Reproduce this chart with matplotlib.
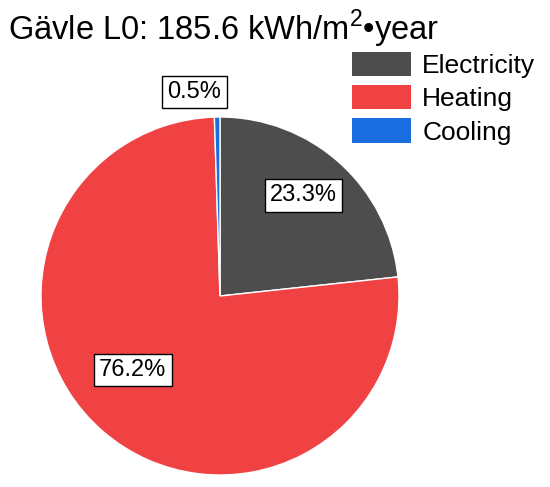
import numpy as np
import matplotlib.pyplot as plt
from matplotlib.patches import Patch

plt.rcParams['font.family'] = ['Liberation Sans', 'DejaVu Sans']
plt.rcParams['mathtext.fontset'] = 'custom'
plt.rcParams['mathtext.rm'] = 'Liberation Sans'

categories = ['Electricity', 'Heating', 'Cooling']
shares = [23.3, 76.2, 0.5]
colors = ['#4d4d4d', '#f04242', '#1a6ee0']
title = 'Gävle L0: 185.6 kWh/m$^{2}$•year'

# label placement (polar, in pie radii / degrees)
label_r = [0.73, 0.64, 1.15]
label_ang = [50.3, 220.4, 97.1]

fig = plt.figure(figsize=(5.5, 4.87), dpi=100)
ax = fig.add_axes([41 / 550, 12 / 487, 358 / 550, 358 / 487])

ax.pie(shares, colors=colors, startangle=90, counterclock=False,
       wedgeprops=dict(edgecolor='white', linewidth=1.0))
ax.set_xlim(-1, 1)
ax.set_ylim(-1, 1)
ax.set_aspect('auto')

for v, r, a in zip(shares, label_r, label_ang):
    x = r * np.cos(np.radians(a))
    y = r * np.sin(np.radians(a))
    ax.text(x, y, f'{v}%', ha='center', va='center', fontsize=17,
            bbox=dict(boxstyle='square,pad=0.22', facecolor='white',
                      edgecolor='black', linewidth=1.0), clip_on=False)

handles = [Patch(facecolor=c, edgecolor='none') for c in colors]
fig.legend(handles, categories, loc='upper left',
           bbox_to_anchor=(352 / 550, 1 - 52 / 487), frameon=False,
           fontsize=19, handlelength=2.24, handleheight=1.03,
           handletextpad=0.42, labelspacing=0.27, borderaxespad=0,
           borderpad=0)

fig.text(8 / 550, 1 - 8 / 487, title, ha='left', va='top', fontsize=23.5)

fig.savefig('out.png', dpi=100)
